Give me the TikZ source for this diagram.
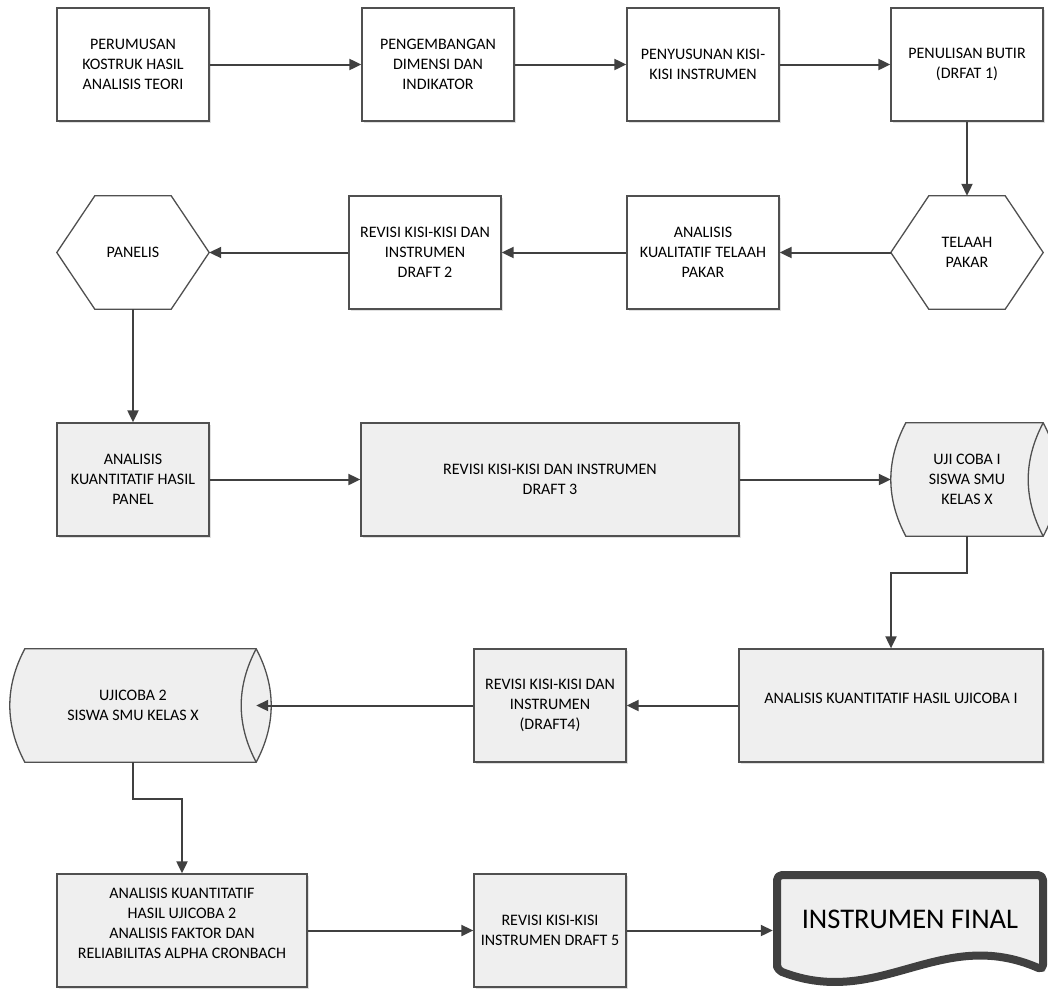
\documentclass[tikz,border=0pt]{standalone}
\usepackage{fontspec}
\setmainfont{Carlito}
\usetikzlibrary{arrows.meta,calc,shadows,backgrounds}
\definecolor{ln}{HTML}{404040}
\definecolor{bd}{HTML}{505050}
\definecolor{gf}{HTML}{EFEFEF}
\tikzset{
  txt/.style={font=\fontsize{16}{20}\selectfont, text=black, align=center, inner sep=0pt},
  box/.style={txt, draw=bd, line width=1.3pt, fill=white, minimum width=152pt, minimum height=113pt,
    drop shadow={shadow xshift=2pt, shadow yshift=-2pt, fill=black, opacity=0.12}},
  gbox/.style={box, fill=gf},
  lbl/.style={txt, minimum width=152pt, minimum height=113pt},
  shp/.style={draw=bd, line width=1.3pt},
  shd/.style={fill=black, opacity=0.12, draw=none},
  arr/.style={draw=ln, line width=2pt, -{Triangle[length=12pt,width=11pt]}},
}
\newcommand\hexshape[2]{%
  \path[#2] (#1.west) -- ($(#1.north west)+(38,0)$) -- ($(#1.north east)+(-38,0)$) -- (#1.east)
    -- ($(#1.south east)+(-38,0)$) -- ($(#1.south west)+(38,0)$) -- cycle;}
\newcommand\cylshape[2]{%
  \path[#2] ($(#1.north west)+(15,0)$) -- (#1.north east)
    .. controls +(20,37.7) and +(20,-37.7) .. (#1.south east)
    -- ($(#1.south west)+(15,0)$)
    .. controls +(-20,-37.7) and +(-20,37.7) .. ($(#1.north west)+(15,0)$) -- cycle;}
\begin{document}
\begin{tikzpicture}[x=1pt,y=-1pt]
\useasboundingbox (0,0) rectangle (1048,989);
% row 1
\node[box] (b1) at (133,64.5) {PERUMUSAN\\KOSTRUK HASIL\\ANALISIS TEORI};
\node[box] (b2) at (438,64.5) {PENGEMBANGAN\\DIMENSI DAN\\INDIKATOR};
\node[box] (b3) at (703,64.5) {PENYUSUNAN KISI-\\KISI INSTRUMEN};
\node[box] (b4) at (967,64.5) {PENULISAN BUTIR\\(DRFAT 1)};
% row 2
\node[lbl] (tp) at (967,252.5) {TELAAH\\PAKAR};
\node[box] (ak) at (703,252.5) {ANALISIS\\KUALITATIF TELAAH\\PAKAR};
\node[box] (r2) at (425,252.5) {REVISI KISI-KISI DAN\\INSTRUMEN\\DRAFT 2};
\node[lbl] (pan) at (133,252.5) {PANELIS};
% row 3
\node[gbox] (r3a) at (133,479.5) {ANALISIS\\KUANTITATIF HASIL\\PANEL};
\node[gbox, minimum width=378pt] (r3b) at (550,479.5) {REVISI KISI-KISI DAN INSTRUMEN\\DRAFT 3};
\node[lbl] (uji) at (967,479.5) {UJI COBA I\\SISWA SMU\\KELAS X};
% row 4
\node[gbox, minimum width=304pt] (a1) at (891,705.5) {ANALISIS KUANTITATIF HASIL UJICOBA I\\[-5pt]\mbox{}};
\node[gbox] (r4) at (550,705.5) {REVISI KISI-KISI DAN\\INSTRUMEN\\(DRAFT4)};
\node[lbl, minimum width=246pt] (uji2) at (133,705.5) {UJICOBA 2\\SISWA SMU KELAS X};
% row 5
\node[gbox, minimum width=250pt] (r5a) at (182,930.5) {ANALISIS KUANTITATIF\\HASIL UJICOBA 2\\ANALISIS FAKTOR DAN\\RELIABILITAS ALPHA CRONBACH\\[-6pt]\mbox{}};
\node[gbox] (r5b) at (550,930.5) {REVISI KISI-KISI\\INSTRUMEN DRAFT 5};
\node[txt, font=\fontsize{28.5}{32}\selectfont, minimum width=274pt, minimum height=96pt] (fin) at (910,919) {INSTRUMEN FINAL};
\coordinate (c1) at (967,573);
\coordinate (c2) at (133,799);
% shapes
\begin{scope}[on background layer]
  \begin{scope}[shift={(2,2)}]
    \hexshape{tp}{shd}
    \hexshape{pan}{shd}
    \cylshape{uji}{shd}
    \cylshape{uji2}{shd}
    \path[shd] (777,970) -- (777,875) -- (1043,875) -- (1043,970) .. controls (940,925) and (880,1010) .. (777,970) -- cycle;
  \end{scope}
  \hexshape{tp}{shp,fill=white}
  \hexshape{pan}{shp,fill=white}
  \cylshape{uji}{shp,fill=gf}
  \path[shp] (uji.north east) .. controls +(-20,37.7) and +(-20,-37.7) .. (uji.south east);
  \cylshape{uji2}{shp,fill=gf}
  \path[shp] (uji2.north east) .. controls +(-20,37.7) and +(-20,-37.7) .. (uji2.south east);
  \path[draw=ln, line width=8pt, fill=gf, rounded corners=5pt, line join=round]
    (777,970) -- (777,875) -- (1043,875) -- (1043,970) .. controls (940,925) and (880,1010) .. (777,970) -- cycle;
\end{scope}
% connectors
\draw[arr] (b1.east) -- (b2.west);
\draw[arr] (b2.east) -- (b3.west);
\draw[arr] (b3.east) -- (b4.west);
\draw[arr] (b4.south) -- (tp.north);
\draw[arr] (tp.west) -- (ak.east);
\draw[arr] (ak.west) -- (r2.east);
\draw[arr] (r2.west) -- (pan.east);
\draw[arr] (pan.south) -- (r3a.north);
\draw[arr] (r3a.east) -- (r3b.west);
\draw[arr] (r3b.east) -- (uji.west);
\draw[arr] (uji.south) -- (c1) -| (a1.north);
\draw[arr] (a1.west) -- (r4.east);
\draw[arr] (r4.west) -- (uji2.east);
\draw[arr] (uji2.south) -- (c2) -| (r5a.north);
\draw[arr] (r5a.east) -- (r5b.west);
\draw[arr] (r5b.east) -- (r5b.east -| fin.west);
\end{tikzpicture}
\end{document}
